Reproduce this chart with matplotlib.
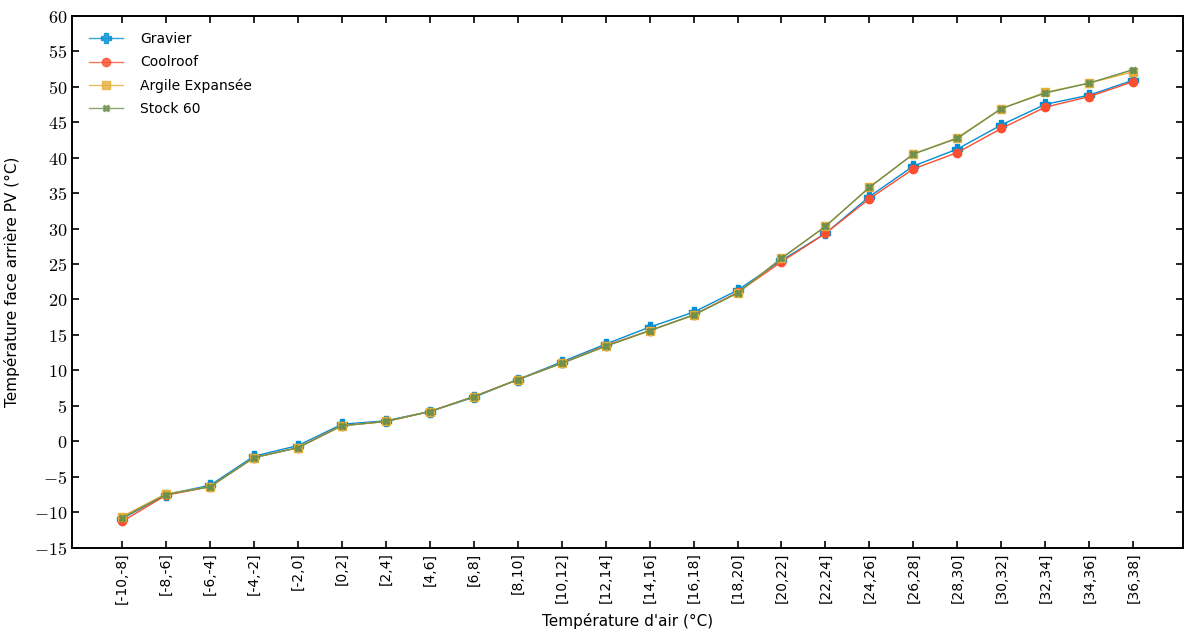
import matplotlib
matplotlib.use("Agg")
import matplotlib.pyplot as plt
from matplotlib.ticker import FuncFormatter, MultipleLocator

plt.rcParams["mathtext.fontset"] = "cm"
plt.rcParams["font.family"] = ["DejaVu Sans"]

CATEGORIES = [
    "[-10,-8]", "[-8,-6]", "[-6,-4]", "[-4,-2]", "[-2,0]", "[0,2]", "[2,4]", "[4,6]",
    "[6,8]", "[8,10]", "[10,12]", "[12,14]", "[14,16]", "[16,18]", "[18,20]", "[20,22]",
    "[22,24]", "[24,26]", "[26,28]", "[28,30]", "[30,32]", "[32,34]", "[34,36]", "[36,38]",
]

GRAVIER = [-10.9, -7.5, -6.2, -2.1, -0.6, 2.4, 2.9, 4.2, 6.2, 8.7, 11.2, 13.7,
           16.1, 18.2, 21.3, 25.5, 29.3, 34.5, 38.8, 41.2, 44.6, 47.5, 48.8, 50.9]
COOLROOF = [-11.3, -7.6, -6.4, -2.3, -0.9, 2.2, 2.8, 4.2, 6.3, 8.7, 11.0, 13.5,
            15.6, 17.8, 21.0, 25.3, 29.3, 34.2, 38.4, 40.7, 44.1, 47.1, 48.6, 50.7]
ARGILE = [-10.6, -7.4, -6.4, -2.3, -0.9, 2.2, 2.8, 4.2, 6.3, 8.7, 11.0, 13.4,
          15.6, 17.8, 20.9, 25.8, 30.3, 35.8, 40.5, 42.8, 46.9, 49.2, 50.5, 52.1]
STOCK60 = [-10.8, -7.5, -6.4, -2.3, -0.9, 2.2, 2.8, 4.2, 6.3, 8.7, 11.0, 13.4,
           15.6, 17.8, 20.9, 25.8, 30.3, 35.8, 40.5, 42.7, 46.9, 49.1, 50.5, 52.4]

SERIES = [
    ("Gravier", GRAVIER, "#008fd5", "P", 7.5),
    ("Coolroof", COOLROOF, "#fc4f30", "o", 6),
    ("Argile Expansée", ARGILE, "#e5ae38", "s", 6),
    ("Stock 60", STOCK60, "#6d904f", "X", 4.5),
]


def main():
    fig = plt.figure(figsize=(11.86, 6.3), dpi=100)
    ax = fig.add_axes([0.0607, 0.1306, 0.937, 0.8445])

    x = list(range(len(CATEGORIES)))
    for label, values, color, marker, size in SERIES:
        ax.plot(x, values, color=color, marker=marker, markersize=size,
                linewidth=1.0, label=label)

    ax.set_xlim(-1.14, len(CATEGORIES) - 1 + 1.14)
    ax.set_ylim(-15, 60)
    ax.set_xticks(x)
    ax.set_xticklabels(CATEGORIES, rotation=90, fontsize=10)
    ax.yaxis.set_major_locator(MultipleLocator(5))
    ax.yaxis.set_major_formatter(FuncFormatter(lambda v, _: f"${v:g}$"))
    ax.tick_params(axis="y", labelsize=13)
    ax.tick_params(direction="in", top=True, right=True, length=5, width=1.2)
    for spine in ax.spines.values():
        spine.set_linewidth(1.4)

    ax.set_xlabel("Température d'air (°C)", fontsize=11, labelpad=6)
    ax.set_ylabel("Température face arrière PV (°C)", fontsize=11, labelpad=10)

    leg = ax.legend(loc="upper left", frameon=False, fontsize=10, handlelength=2.5,
                    handletextpad=1.2, labelspacing=0.65, borderaxespad=0.8)
    for line in leg.get_lines():
        line.set_alpha(0.8)

    fig.savefig("out.png", dpi=100)
    plt.close(fig)


if __name__ == "__main__":
    main()
